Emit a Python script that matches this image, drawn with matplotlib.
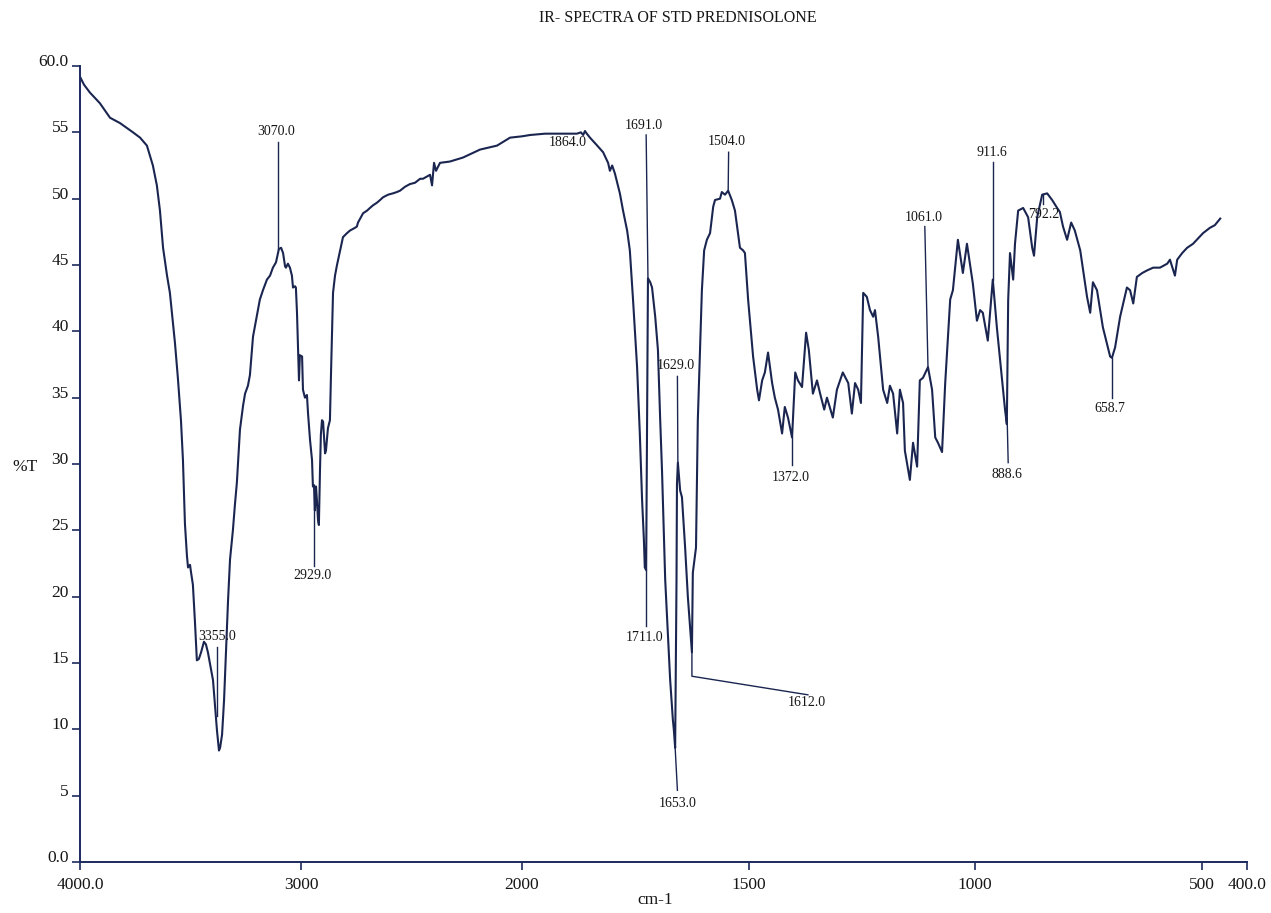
import numpy as np
import matplotlib
matplotlib.use("Agg")
import matplotlib.pyplot as plt
from matplotlib.ticker import NullLocator

# ---------------- data ----------------
wavenumber = [
    4000, 3982, 3955, 3910, 3864, 3819, 3760, 3728, 3697, 3670, 3652, 3638, 3624, 3606, 3593,
    3570, 3557, 3543, 3534, 3525, 3516, 3511, 3502, 3498, 3489, 3480, 3471, 3462, 3452, 3439,
    3430, 3421, 3407, 3398, 3389, 3380, 3371, 3366, 3357, 3348, 3339, 3330, 3321, 3308, 3299,
    3290, 3276, 3262, 3253, 3240, 3231, 3217, 3199, 3186, 3172, 3154, 3140, 3127, 3113, 3100,
    3090, 3081, 3072, 3068, 3059, 3050, 3041, 3036, 3027, 3023, 3018, 3009, 3005, 2995, 2991,
    2982, 2973, 2968, 2959, 2950, 2946, 2941, 2937, 2932, 2928, 2923, 2919, 2914, 2910, 2905,
    2900, 2891, 2887, 2878, 2869, 2864, 2855, 2846, 2837, 2823, 2810, 2792, 2778, 2756, 2747,
    2742, 2719, 2701, 2688, 2674, 2656, 2642, 2629, 2606, 2584, 2566, 2552, 2529, 2507, 2484,
    2461, 2448, 2416, 2407, 2398, 2389, 2380, 2371, 2326, 2267, 2190, 2113, 2054, 2000,
    1982, 1949, 1923, 1894, 1879, 1870, 1865, 1861, 1857, 1850, 1834, 1821, 1810, 1806, 1801,
    1795, 1784, 1777, 1768, 1762, 1755, 1746, 1740, 1735, 1731, 1729, 1726, 1724, 1722, 1717,
    1713, 1706, 1700, 1695, 1691, 1684, 1673, 1667, 1665, 1662, 1659, 1658, 1656, 1651, 1647,
    1640, 1634, 1627, 1625, 1623, 1616, 1614, 1612, 1607, 1603, 1598, 1592, 1585, 1578, 1574,
    1563, 1559, 1552, 1545, 1537, 1530, 1519, 1512, 1508, 1501, 1490, 1481, 1477, 1470, 1464,
    1457, 1448, 1442, 1435, 1426, 1420, 1413, 1404, 1397, 1391, 1382, 1373, 1367, 1358, 1349,
    1342, 1333, 1327, 1314, 1305, 1292, 1280, 1272, 1265, 1258, 1252, 1247, 1239, 1232, 1225,
    1221, 1214, 1203, 1194, 1188, 1181, 1172, 1166, 1159, 1155, 1144, 1137, 1128, 1122, 1115,
    1104, 1095, 1088, 1082, 1073, 1066, 1055, 1049, 1038, 1027, 1018, 1005, 996, 989, 983,
    972, 961, 952, 941, 934, 930, 927, 923, 916, 912, 905, 894, 883, 874, 870,
    863, 852, 841, 830, 819, 813, 806, 797, 788, 780, 768, 753, 746, 740, 731,
    718, 702, 698, 691, 680, 665, 658, 651, 643, 631, 620, 607, 592, 576, 570,
    559, 554, 543, 532, 519, 508, 497, 482, 471, 459,
]
transmittance = [
    59.2, 58.6, 58.0, 57.2, 56.1, 55.7, 55.0, 54.6, 54.0, 52.5, 51.0, 49.1, 46.3, 44.2, 42.9,
    39.1, 36.5, 33.3, 30.3, 25.5, 23.1, 22.2, 22.4, 21.9, 20.9, 18.2, 15.2, 15.3, 15.8, 16.6,
    16.4, 15.8, 14.5, 13.7, 11.8, 9.9, 8.4, 8.6, 9.6, 12.2, 16.0, 19.7, 22.8, 25.0, 26.9,
    28.6, 32.6, 34.4, 35.3, 35.9, 36.7, 39.6, 41.2, 42.4, 43.1, 43.9, 44.2, 44.8, 45.2, 46.2,
    46.3, 45.9, 44.9, 44.8, 45.1, 44.8, 44.2, 43.3, 43.4, 43.3, 41.4, 36.3, 38.2, 38.1, 35.6,
    35.0, 35.2, 33.8, 31.8, 30.3, 28.3, 28.4, 26.5, 28.3, 27.3, 25.8, 25.4, 29.5, 32.2, 33.3,
    33.2, 30.8, 31.0, 32.7, 33.3, 36.9, 42.9, 44.2, 45.0, 46.1, 47.1, 47.4, 47.6, 47.8, 47.9,
    48.2, 48.9, 49.1, 49.3, 49.5, 49.7, 49.9, 50.1, 50.3, 50.4, 50.5, 50.6, 50.9, 51.1, 51.2,
    51.5, 51.5, 51.8, 51.0, 52.7, 52.1, 52.4, 52.7, 52.8, 53.1, 53.7, 54.0, 54.6, 54.7,
    54.8, 54.9, 54.9, 54.9, 54.9, 55.0, 54.8, 55.1, 54.9, 54.6, 54.0, 53.5, 52.7, 52.1, 52.5,
    51.9, 50.4, 49.1, 47.6, 46.1, 42.4, 37.3, 32.3, 27.3, 24.3, 22.2, 22.0, 33.3, 44.0, 43.7,
    43.3, 41.1, 38.6, 33.3, 29.5, 21.3, 13.7, 10.7, 10.0, 8.6, 21.3, 28.5, 30.1, 28.0, 27.5,
    23.7, 20.0, 16.7, 15.8, 21.8, 23.7, 28.8, 33.3, 38.6, 43.1, 46.1, 46.9, 47.4, 49.4, 49.9,
    50.0, 50.5, 50.3, 50.6, 49.9, 49.1, 46.3, 46.1, 45.9, 42.4, 38.1, 35.6, 34.8, 36.3, 36.9,
    38.4, 36.1, 35.0, 34.1, 32.3, 34.3, 33.5, 32.0, 36.9, 36.3, 35.8, 39.9, 38.6, 35.3, 36.3,
    35.3, 34.1, 35.0, 33.5, 35.6, 36.9, 36.1, 33.8, 36.1, 35.6, 34.6, 42.9, 42.6, 41.6, 41.1,
    41.6, 39.6, 35.6, 34.6, 35.9, 35.3, 32.3, 35.6, 34.6, 31.0, 28.8, 31.6, 29.8, 36.3, 36.5,
    37.3, 35.6, 32.0, 31.6, 30.9, 36.1, 42.4, 43.1, 46.9, 44.4, 46.6, 43.6, 40.8, 41.6, 41.4,
    39.3, 43.9, 40.3, 36.5, 34.1, 33.0, 42.4, 45.9, 43.9, 46.6, 49.1, 49.3, 48.6, 46.3, 45.7,
    48.6, 50.3, 50.4, 49.9, 49.3, 49.0, 47.9, 46.9, 48.2, 47.6, 46.1, 42.6, 41.4, 43.7, 43.1,
    40.3, 38.1, 38.0, 38.8, 41.1, 43.3, 43.1, 42.1, 44.1, 44.4, 44.6, 44.8, 44.8, 45.1, 45.4,
    44.2, 45.4, 45.9, 46.3, 46.6, 47.0, 47.4, 47.8, 48.0, 48.5,
]

x_ticks = [4000, 3000, 2000, 1500, 1000, 500, 400]
x_tick_labels = ["4000.0", "3000", "2000", "1500", "1000", "500", "400.0"]
y_ticks = [0, 5, 10, 15, 20, 25, 30, 35, 40, 45, 50, 55, 60]
y_tick_labels = ["0.0", "5", "10", "15", "20", "25", "30", "35", "40", "45", "50", "55", "60.0"]

peak_labels = ["3355.0", "3070.0", "2929.0", "1864.0", "1691.0", "1711.0", "1629.0", "1653.0",
               "1612.0", "1504.0", "1372.0", "1061.0", "911.6", "888.6", "792.2", "658.7"]

# ---------------- layout of the peak annotations ----------------
# (text x, text y, leader x list, leader y list)
annot_layout = [
    (3380, 17.0, [3380, 3380], [16.2, 11.0]),
    (3113, 55.1, [3104, 3104], [54.3, 46.2]),
    (2950, 21.6, [2941, 2941], [22.3, 28.4]),
    (1898, 54.2, [], []),
    (1731, 55.5, [1726, 1722], [54.8, 44.0]),
    (1729, 16.9, [1727, 1727], [17.8, 22.0]),
    (1660, 37.4, [1657, 1656], [36.6, 30.1]),
    (1656, 4.4, [1662, 1657], [8.6, 5.4]),
    (1371, 12.0, [1625, 1625, 1369], [15.8, 14.0, 12.6]),
    (1548, 54.3, [1544, 1545], [53.5, 50.6]),
    (1406, 29.0, [1404, 1404], [29.9, 32.0]),
    (1113, 48.6, [1111, 1104], [47.9, 37.3]),
    (963, 53.5, [961, 961], [52.8, 43.9]),
    (930, 29.2, [929, 927], [33.0, 30.1]),
    (848, 48.8, [850, 850], [50.3, 49.6]),
    (702, 34.2, [698, 698], [35.0, 38.0]),
]

LINE = "#1b2650"
AXC = "#1c2a5e"
TXT = "#161616"
SERIF = ["Liberation Serif", "DejaVu Serif"]

fig = plt.figure(figsize=(12.71, 9.13), dpi=100)
fig.patch.set_facecolor("white")
ax = fig.add_axes([0.0629, 0.0559, 0.9182, 0.8718])


def fwd(x):
    x = np.asarray(x, dtype=float)
    return np.where(x >= 2000, x - 2000.0, 2.05 * (x - 2000.0))


def inv(y):
    y = np.asarray(y, dtype=float)
    return np.where(y >= 0, y + 2000.0, y / 2.05 + 2000.0)


ax.set_xscale("function", functions=(fwd, inv))
ax.set_xlim(4000, 400)
ax.set_ylim(0, 60)

ax.plot(wavenumber, transmittance, color=LINE, lw=1.5, solid_joinstyle="round")

for label, (tx, ty, lx, ly) in zip(peak_labels, annot_layout):
    if lx:
        ax.plot(lx, ly, color=LINE, lw=1.0)
    ax.text(tx, ty, label, ha="center", va="center", fontsize=10,
            family=SERIF, color=TXT)

for s in ["top", "right"]:
    ax.spines[s].set_visible(False)
for s in ["left", "bottom"]:
    ax.spines[s].set_color(AXC)
    ax.spines[s].set_linewidth(1.4)

ax.set_xticks(x_ticks)
ax.set_xticklabels(x_tick_labels, family=SERIF, fontsize=12.5, color=TXT)
ax.xaxis.set_minor_locator(NullLocator())
ax.set_yticks(y_ticks)
ax.set_yticklabels(y_tick_labels, family=SERIF, fontsize=12.5, color=TXT)
ax.yaxis.set_minor_locator(NullLocator())
for lbl in ax.get_yticklabels():
    lbl.set_verticalalignment("baseline")
ax.tick_params(axis="x", direction="out", length=6, width=1.2, pad=5, color=AXC)
ax.tick_params(axis="y", direction="out", length=6, width=1.2, pad=2, color=AXC)

fig.text(655 / 1271, 1 - 900 / 913, "cm-1", ha="center", va="center",
         family=SERIF, fontsize=12.5, color=TXT)
fig.text(25 / 1271, 1 - 467 / 913, "%T", ha="center", va="center",
         family=SERIF, fontsize=12.5, color=TXT)
fig.text(678 / 1271, 1 - 18 / 913, "IR- SPECTRA OF STD PREDNISOLONE", ha="center",
         va="center", family=SERIF, fontsize=11.5, color=TXT)

fig.savefig("out.png", dpi=100, facecolor="white")
